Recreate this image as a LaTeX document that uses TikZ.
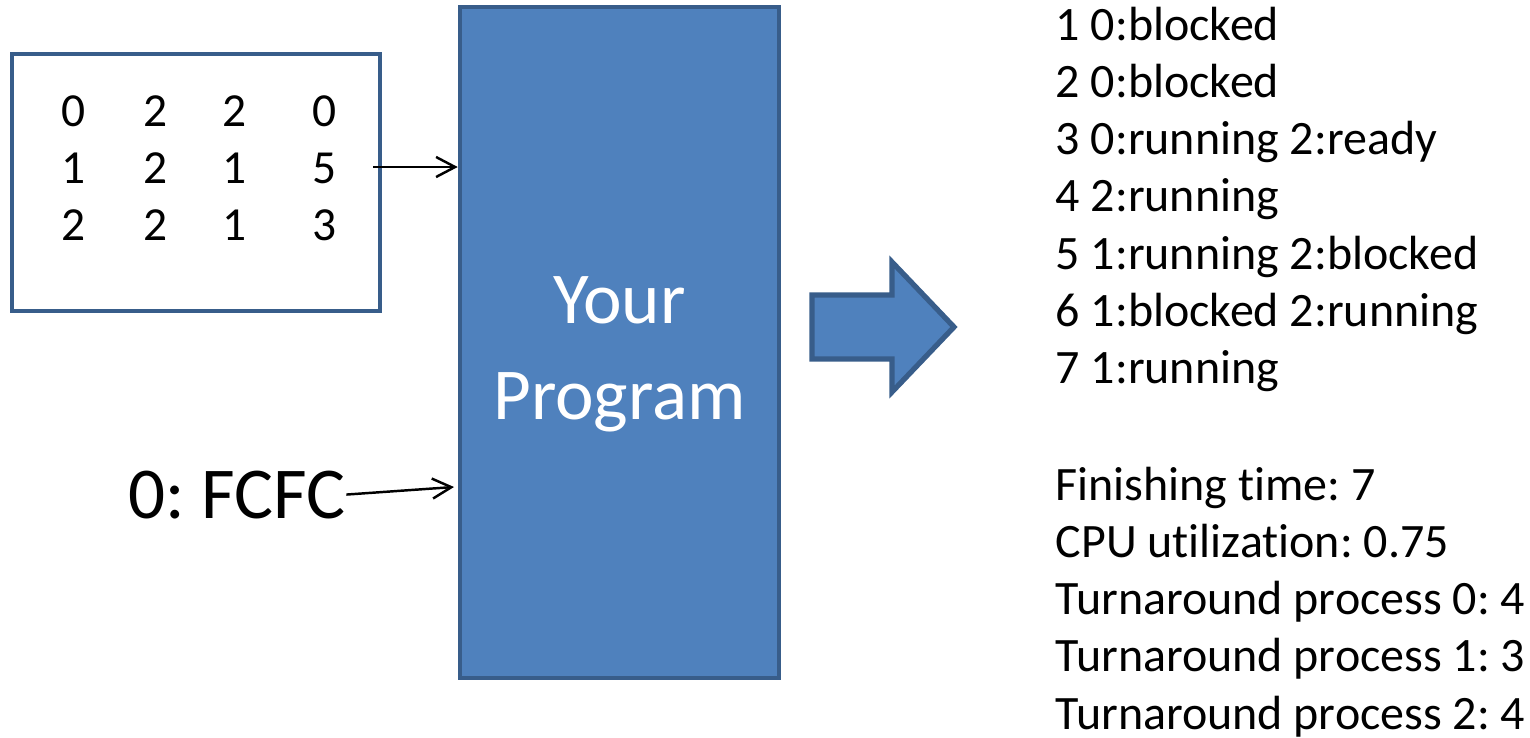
\documentclass[tikz,border=0pt]{standalone}
\usepackage{fontspec}
\setmainfont{Carlito}[Ligatures=NoCommon]
\frenchspacing
\usetikzlibrary{arrows.meta}

\definecolor{progblue}{HTML}{4F81BD}
\definecolor{edgeblue}{HTML}{385D8A}

\begin{document}
\begin{tikzpicture}[
  x=0.1mm, y=-0.1mm,
  inbox/.style={
    rectangle,
    draw=edgeblue,
    line width=1.1pt,
    inner sep=0pt
  },
  progbox/.style={
    rectangle,
    draw=edgeblue,
    fill=progblue,
    line width=1.3pt,
    inner sep=0pt
  },
  bigarrow/.style={
    draw=edgeblue,
    fill=progblue,
    line width=1.5pt,
    line join=miter
  },
  feed/.style={
    -{Straight Barb[length=1.9mm,width=2mm]},
    line width=0.7pt
  },
  digit/.style={anchor=base, inner sep=0pt, font=\fontsize{13.5}{16.3}\selectfont},
  outline/.style={anchor=base west, inner sep=0pt, font=\fontsize{13.65}{16.3}\selectfont},
  bigtext/.style={inner sep=0pt, font=\fontsize{20.8}{27.3}\selectfont}]
  \useasboundingbox (0,0) rectangle (1530,738);
  % input table
  \node [inbox, minimum width=36.8mm, minimum height=25.7mm] (input) at (196,182.5) {};
  \foreach \a/\b/\c/\d [count=\r] in {0/2/2/0, 1/2/1/5, 2/2/1/3} {
    \node [digit] (d-\r-1) at (74, 69+57*\r) {\a};
    \node [digit] (d-\r-2) at (156,69+57*\r) {\b};
    \node [digit] (d-\r-3) at (235,69+57*\r) {\c};
    \node [digit] (d-\r-4) at (325,69+57*\r) {\d};
  }
  % program
  \node [progbox, minimum width=31.9mm, minimum height=67.1mm,
    label={[bigtext, text=white, align=center, yshift=-1.15mm]center:Your\\Program}]
    (prog) at (619.5,342.5) {};
  % inputs
  \node [bigtext, anchor=base west] (policy) at (128,518) {0: FCFC};
  \coordinate (out5) at (373,167);
  \coordinate (in2) at (454,487);
  \draw [feed] (out5) -- (out5 -| prog.west);
  \draw [feed] (policy.east) -- (in2);
  % output arrow
  \draw [bigarrow] (812,295) -- (892,295) -- (892,262) -- (954,327)
    -- (892,392) -- (892,359) -- (812,359) -- cycle;
  % output
  \foreach \t [count=\i] in {1 0:blocked, 2 0:blocked, 3 0:running 2:ready,
      4 2:running, 5 1:running 2:blocked, 6 1:blocked 2:running, 7 1:running}
    \node [outline] (log-\i) at (1055, 40+57.3*\i-57.3) {\t};
  \foreach \t [count=\i] in {Finishing time: 7, CPU utilization: 0.75,
      Turnaround process 0: 4, Turnaround process 1: 3, Turnaround process 2: 4}
    \node [outline] (stat-\i) at (1055, 500+57.3*\i-57.3) {\t};
\end{tikzpicture}
\end{document}
